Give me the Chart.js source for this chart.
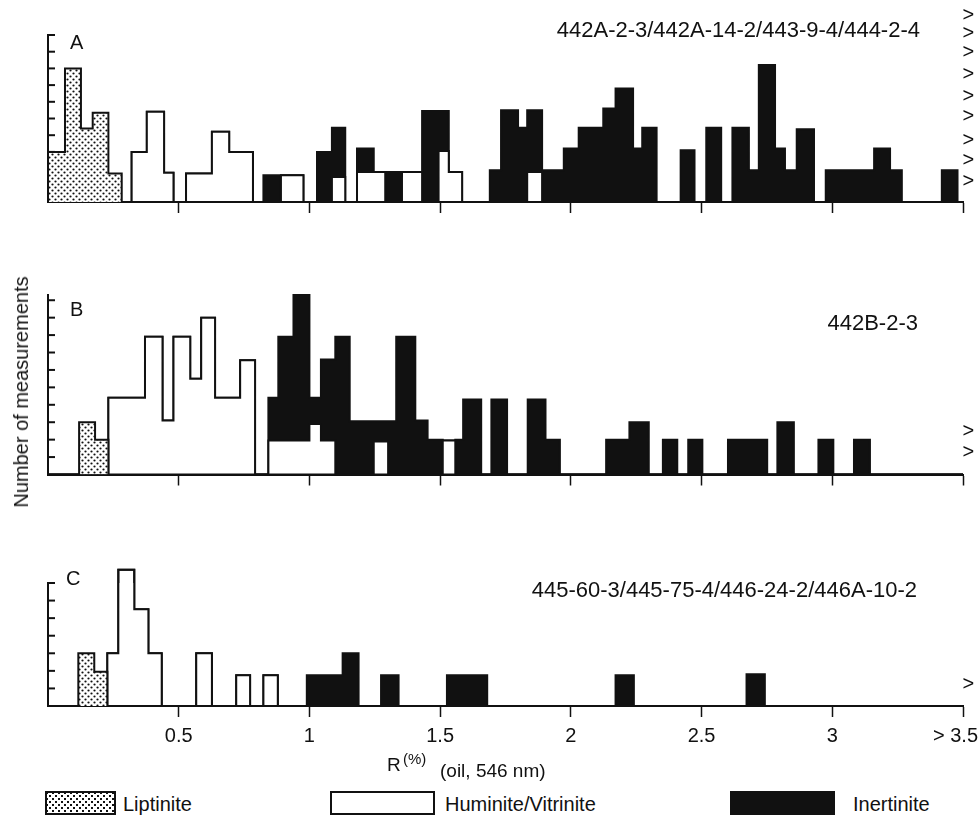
<!DOCTYPE html>
<html>
<head>
<meta charset="utf-8">
<script src="https://cdn.jsdelivr.net/npm/chart.js@4/dist/chart.umd.min.js"></script>
<style>
body { margin: 0; background: #fff; }
#wrap { position: relative; width: 979px; height: 820px; overflow: hidden; font-family: "Liberation Sans", Arial, sans-serif; color: #111; }
canvas { position: absolute; left: 0; }
.t { position: absolute; white-space: nowrap; line-height: 1; }
.box { position: absolute; top: 791px; height: 24px; border: 2px solid #111; box-sizing: border-box; }
.dots { background: radial-gradient(circle, #111 0.9px, transparent 1.3px) 0 0 / 6px 6px, radial-gradient(circle, #111 0.9px, transparent 1.3px) 3px 3px / 6px 6px, #fff; }
.lg { top: 794px; font-size: 20px; }
</style>
</head>
<body>
<div id="wrap">
  <canvas id="cA" width="979" height="222" style="top:0px"></canvas>
  <canvas id="cB" width="979" height="222" style="top:270px"></canvas>
  <canvas id="cC" width="979" height="210" style="top:560px"></canvas>

  <div class="t" style="left:70px;top:32px;font-size:20px">A</div>
  <div class="t" style="left:70px;top:299px;font-size:20px">B</div>
  <div class="t" style="left:66px;top:568px;font-size:20px">C</div>

  <div class="t" style="right:59px;top:19px;font-size:22px">442A-2-3/442A-14-2/443-9-4/444-2-4</div>
  <div class="t" style="right:61px;top:312px;font-size:22px">442B-2-3</div>
  <div class="t" style="right:62px;top:579px;font-size:22px">445-60-3/445-75-4/446-24-2/446A-10-2</div>

  <div class="t" style="left:21px;top:392px;font-size:20px;transform:translate(-50%,-50%) rotate(-90deg)">Number of measurements</div>

  <div class="t" style="left:387px;top:755px;font-size:19px">R</div>
  <div class="t" style="left:403px;top:751px;font-size:15px">(%)</div>
  <div class="t" style="left:440px;top:761px;font-size:19px">(oil, 546 nm)</div>

  <div class="box dots" style="left:45px;width:71px"></div><div class="t lg" style="left:123px">Liptinite</div>
  <div class="box" style="left:330px;width:105px;background:#fff"></div><div class="t lg" style="left:445px">Huminite/Vitrinite</div>
  <div class="box" style="left:730px;width:105px;background:#111"></div><div class="t lg" style="left:853px">Inertinite</div>
</div>

<script>
// histogram bins: [from R%, to R%, count]
const liptA = [[0.000,0.065,3.0],[0.065,0.126,8.0],[0.126,0.171,4.4],[0.171,0.231,5.35],[0.231,0.282,1.7]]
const humA = [
  [0.320,0.378,3.0],[0.378,0.444,5.4],[0.444,0.480,1.75],
  [0.528,0.627,1.7],[0.627,0.693,4.2],[0.693,0.784,3.0],
  [0.891,0.977,1.6],[1.086,1.137,1.5],[1.182,1.290,1.8],[1.354,1.431,1.8],
  [1.494,1.533,3.05],[1.533,1.584,1.8],[1.833,1.890,1.8]
]
const inertA = [
  [0.824,0.891,1.6],[1.029,1.086,3.0],[1.086,1.137,2.95],[1.182,1.246,1.4],[1.290,1.354,1.8],
  [1.431,1.494,5.45],[1.494,1.533,2.4],
  [1.690,1.733,1.9],[1.733,1.798,5.5],[1.798,1.833,4.45],[1.833,1.890,3.7],[1.890,1.973,1.9],
  [1.973,2.030,3.2],[2.030,2.124,4.45],[2.124,2.171,5.6],[2.171,2.238,6.8],[2.238,2.273,3.2],[2.273,2.328,4.45],
  [2.420,2.473,3.1],[2.518,2.575,4.45],
  [2.618,2.681,4.45],[2.681,2.719,1.9],[2.719,2.781,8.2],[2.781,2.819,3.2],[2.819,2.864,1.9],[2.864,2.930,4.35],
  [2.975,3.160,1.9],[3.160,3.221,3.2],[3.221,3.266,1.9],[3.419,3.479,1.9]
]
const overA = [1.22, 2.47, 3.71, 5.11, 6.3, 7.66, 8.94, 10.1, 11.14]

const liptB = [[0.119,0.180,3.0],[0.180,0.231,2.0]]
const humB = [
  [0.231,0.371,4.4],[0.371,0.438,7.9],[0.438,0.480,3.1],[0.480,0.544,7.9],[0.544,0.586,5.5],
  [0.586,0.639,9.0],[0.639,0.735,4.4],[0.735,0.792,6.55],
  [0.843,1.000,1.95],[1.000,1.044,2.9],[1.044,1.099,1.95],[1.246,1.301,1.9],[1.510,1.558,1.95]
]
const inertB = [
  [0.843,0.881,2.45],[0.881,0.939,5.95],[0.939,1.000,8.35],[1.000,1.044,1.5],[1.044,1.099,4.65],
  [1.099,1.154,7.9],[1.154,1.246,3.05],[1.246,1.301,1.15],[1.301,1.332,3.05],[1.332,1.405,7.9],
  [1.405,1.452,3.1],[1.452,1.510,2.0],[1.558,1.588,2.0],[1.588,1.657,4.3],[1.696,1.756,4.3],
  [1.835,1.903,4.3],[1.903,1.958,2.0],[2.135,2.224,2.0],[2.224,2.298,3.0],[2.352,2.407,2.0],
  [2.449,2.503,2.0],[2.601,2.751,2.0],[2.790,2.853,3.0],[2.947,3.004,2.0],[3.083,3.144,2.0]
]
const overB = [1.29, 2.45]

const liptC = [[0.116,0.177,3.0],[0.177,0.227,1.95]]
const humC = [
  [0.227,0.269,3.0],[0.269,0.330,7.75],[0.330,0.384,5.5],[0.384,0.435,3.0],
  [0.567,0.627,3.0],[0.720,0.773,1.75],[0.824,0.879,1.75]
]
const inertC = [[0.990,1.127,1.75],[1.127,1.188,3.0],[1.274,1.341,1.75],[1.526,1.680,1.75],[2.171,2.241,1.75],[2.672,2.742,1.8]]
const overC = [1.25]

const xTicks = [0, 0.5, 1, 1.5, 2, 2.5, 3, 3.5]
const yTicks10 = [1, 2, 3, 4, 5, 6, 7, 8, 9, 10]
const yTicks7 = [1, 2, 3, 4, 5, 6, 7]
const overflowR = 3.52   // column of ">" marks (values above 3.5)

const ink = '#111'
const family = '"Liberation Sans", Arial, sans-serif'
Chart.defaults.font.family = family

// dotted fill for liptinite
function dots() {
  const c = document.createElement('canvas')
  c.width = 6; c.height = 6
  const g = c.getContext('2d')
  g.fillStyle = '#fff'; g.fillRect(0, 0, 6, 6)
  g.fillStyle = ink
  ;[[1.5, 1.5], [4.5, 4.5]].forEach(p => { g.beginPath(); g.arc(p[0], p[1], 1.1, 0, Math.PI * 2); g.fill() })
  return g.createPattern(c, 'repeat')
}
const dotFill = dots()

// turn stacked bin layers into step outline points
function steps(layers) {
  const edges = [...new Set(layers.flat().flatMap(b => [b[0], b[1]]))].sort((a, b) => a - b)
  const pts = [{ x: 0, y: 0 }]
  for (let i = 0; i < edges.length - 1; i++) {
    const mid = (edges[i] + edges[i + 1]) / 2
    let h = 0
    layers.forEach(bars => bars.forEach(b => { if (mid > b[0] && mid < b[1]) h += b[2] }))
    pts.push({ x: edges[i], y: h })
  }
  pts.push({ x: edges[edges.length - 1], y: 0 })
  pts.push({ x: 3.5, y: 0 })
  return pts
}

// y tick marks point inward, like the original
const innerTicks = {
  id: 'innerTicks',
  beforeDatasetsDraw(chart) {
    const y = chart.scales.y, ctx = chart.ctx, left = chart.chartArea.left
    ctx.save()
    ctx.strokeStyle = ink; ctx.lineWidth = 2
    y.ticks.forEach(t => {
      const py = y.getPixelForValue(t.value)
      ctx.beginPath(); ctx.moveTo(left, py); ctx.lineTo(left + 7, py); ctx.stroke()
    })
    ctx.restore()
  }
}

const overflowMarks = {
  id: 'overflowMarks',
  afterDatasetsDraw(chart, args, opts) {
    const { x, y } = chart.scales, ctx = chart.ctx
    ctx.save()
    ctx.fillStyle = ink; ctx.font = '20px ' + family
    ctx.textAlign = 'center'; ctx.textBaseline = 'middle'
    opts.values.forEach(v => ctx.fillText('>', x.getPixelForValue(overflowR), y.getPixelForValue(v)))
    ctx.restore()
  }
}

// keep "> 3.5" inside the canvas
const edgeLabel = {
  id: 'edgeLabel',
  beforeDraw(chart) {
    const s = chart.scales.x
    if (!s.options.ticks.display) return
    const items = s.getLabelItems()
    const last = items[items.length - 1]
    if (last) { last.options.textAlign = 'right'; last.options.translation[0] = chart.width - 1 }
  }
}

function panel(id, lipt, hum, inert, over, yTicks, yMax, pad, labels) {
  return new Chart(document.getElementById(id), {
    type: 'line',
    data: {
      datasets: [
        { label: 'Liptinite', data: steps([lipt]), backgroundColor: dotFill, fill: 'origin', order: 1 },
        { label: 'Huminite/Vitrinite', data: steps([hum]), backgroundColor: '#fff', fill: 'origin', order: 2 },
        { label: 'Inertinite', data: steps([hum, inert]), backgroundColor: ink, fill: 'origin', order: 3 }
      ]
    },
    options: {
      responsive: false,
      animation: false,
      events: [],
      layout: { autoPadding: false, padding: { left: 48, right: 16, top: pad[0], bottom: pad[1] } },
      elements: { point: { radius: 0, hoverRadius: 0 } },
      datasets: { line: { stepped: 'before', borderColor: ink, borderWidth: 2, clip: false, borderJoinStyle: 'miter' } },
      plugins: { legend: { display: false }, tooltip: { enabled: false }, overflowMarks: { values: over } },
      scales: {
        x: {
          type: 'linear', min: 0, max: 3.5,
          afterBuildTicks: s => { s.ticks = xTicks.map(v => ({ value: v })) },
          grid: {
            drawOnChartArea: false, color: ink, tickLength: 11, tickWidth: 1.5,
            tickColor: c => (c.tick && c.tick.value === 0) ? 'rgba(0,0,0,0)' : ink
          },
          border: { color: ink, width: 2 },
          ticks: {
            display: labels, color: ink, padding: 7, maxRotation: 0, autoSkip: false, align: 'inner',
            font: { size: 20 },
            callback: v => v === 0 ? '' : (v === 3.5 ? '> 3.5' : String(v))
          }
        },
        y: {
          min: 0, max: yMax,
          afterBuildTicks: s => { s.ticks = yTicks.map(v => ({ value: v })) },
          grid: { display: false, drawTicks: false },
          border: { color: ink, width: 2 },
          ticks: { display: false }
        }
      }
    },
    plugins: [innerTicks, overflowMarks, edgeLabel]
  })
}

panel('cA', liptA, humA, inertA, overA, yTicks10, 10, [35, 9], false)
panel('cB', liptB, humB, inertB, overB, yTicks10, 10.3, [25, 6.5], false)
panel('cC', liptC, humC, inertC, overC, yTicks7, 7, [23, 15], true)
</script>
</body>
</html>
